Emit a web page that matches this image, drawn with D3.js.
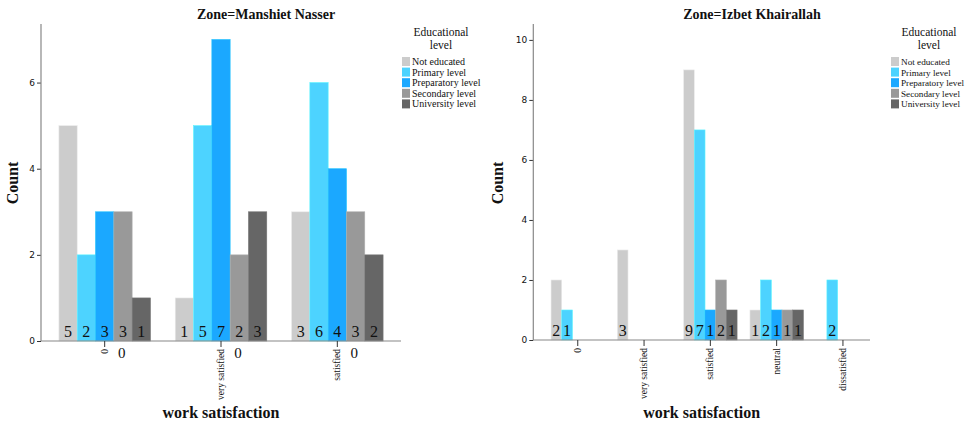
<!DOCTYPE html>
<html>
<head>
<meta charset="utf-8">
<script src="https://cdn.jsdelivr.net/npm/d3@7"></script>
<style>
  body { margin: 0; background: #fff; }
  text { font-family: "Liberation Serif", "DejaVu Serif", serif; fill: #111; }
  .tick text { font-family: "DejaVu Sans", sans-serif; }
</style>
</head>
<body>
<svg id="chart" width="968" height="423"></svg>
<script>
// educational levels (legend + bar order)
var levels = ["Not educated", "Primary level", "Preparatory level", "Secondary level", "University level"];
var levelColors = ["#cccccc", "#4dd3ff", "#1ba8ff", "#999999", "#666666"];

// Zone = Manshiet Nasser
var catsLeft = ["0", "very satisfied", "satisfied"];
var extraLeft = ["0", "0", "0"];   // stray "0" labels next to each tick
var countsLeft = [
  [5, 2, 3, 3, 1],
  [1, 5, 7, 2, 3],
  [3, 6, 4, 3, 2]
];
var yTicksLeft = [0, 2, 4, 6];

// Zone = Izbet Khairallah
var catsRight = ["0", "very satisfied", "satisfied", "neutral", "dissatisfied"];
var countsRight = [
  [2, 1, 0, 0, 0],
  [3, 0, 0, 0, 0],
  [9, 7, 1, 2, 1],
  [1, 2, 1, 1, 1],
  [0, 2, 0, 0, 0]
];
var yTicksRight = [0, 2, 4, 6, 8, 10];

var svg = d3.select("#chart");

function drawPanel(p) {
  var g = svg.append("g");
  var y = d3.scaleLinear().domain([0, p.ymax]).range([p.y0, p.ytop]);
  var x0 = d3.scaleBand().domain(p.cats).range(p.bandRange)
             .paddingInner(p.padIn).paddingOuter(p.padOut);
  var x1 = d3.scaleBand().domain(d3.range(levels.length)).range([0, x0.bandwidth()]);

  // bars
  p.cats.forEach(function(c, i) {
    var grp = g.append("g").attr("transform", "translate(" + x0(c) + ",0)");
    p.counts[i].forEach(function(v, j) {
      if (v <= 0) return;
      grp.append("rect")
         .attr("x", x1(j)).attr("width", x1.bandwidth())
         .attr("y", y(v)).attr("height", y(0) - y(v))
         .attr("fill", levelColors[j])
         .attr("stroke", d3.color(levelColors[j]).brighter(0.4)).attr("stroke-width", 0.6);
      grp.append("text")
         .attr("x", x1(j) + x1.bandwidth() / 2).attr("y", y(0) - 4)
         .attr("text-anchor", "middle")
         .style("font-size", "16px")
         .text(v);
    });
  });

  // y axis
  var yAxis = g.append("g").attr("transform", "translate(" + p.axisX0 + ",0)")
    .call(d3.axisLeft(y).tickValues(p.yTicks).tickSize(4).tickPadding(2));
  yAxis.select(".domain").remove();
  yAxis.selectAll(".tick line").attr("stroke", "#333");
  yAxis.selectAll(".tick text").style("font-size", "9px").attr("fill", "#222");
  g.append("line").attr("x1", p.axisX0).attr("x2", p.axisX0)
   .attr("y1", p.ytop).attr("y2", y(0)).attr("stroke", "#888").attr("stroke-width", 1.2);

  // x axis
  g.append("line").attr("x1", p.axisX0).attr("x2", p.axisX1)
   .attr("y1", y(0)).attr("y2", y(0)).attr("stroke", "#888").attr("stroke-width", 1.2);
  p.cats.forEach(function(c, i) {
    var cx = x0(c) + x0.bandwidth() / 2;
    g.append("line").attr("x1", cx).attr("x2", cx)
     .attr("y1", y(0)).attr("y2", y(0) + 6).attr("stroke", "#333");
    g.append("text")
     .attr("transform", "translate(" + (cx + 3) + "," + (y(0) + 8) + ") rotate(-90)")
     .attr("text-anchor", "end")
     .style("font-size", "9.5px")
     .text(c);
    if (p.extra) {
      g.append("text")
       .attr("x", cx + 17).attr("y", y(0) + 17)
       .attr("text-anchor", "middle")
       .style("font-size", "15px")
       .text(p.extra[i]);
    }
  });

  // titles
  g.append("text").attr("x", p.titleX).attr("y", 19).attr("text-anchor", "middle")
   .style("font-size", "14px").style("font-weight", "bold").text(p.title);
  g.append("text").attr("x", (p.axisX0 + p.axisX1) / 2).attr("y", 418).attr("text-anchor", "middle")
   .style("font-size", "16px").style("font-weight", "bold").text("work satisfaction");
  g.append("text")
   .attr("transform", "translate(" + p.countX + ",183) rotate(-90)")
   .attr("text-anchor", "middle")
   .style("font-size", "16px").style("font-weight", "bold").text("Count");

  // legend
  var lg = g.append("g");
  lg.append("text").attr("x", p.legTitleX).attr("y", 36).attr("text-anchor", "middle")
    .style("font-size", "11.5px").text("Educational");
  lg.append("text").attr("x", p.legTitleX).attr("y", 49).attr("text-anchor", "middle")
    .style("font-size", "11.5px").text("level");
  levels.forEach(function(l, j) {
    var ly = 57 + j * 10.6;
    lg.append("rect").attr("x", p.legX - 10).attr("y", ly).attr("width", 8).attr("height", 9)
      .attr("fill", levelColors[j]);
    lg.append("text").attr("x", p.legX).attr("y", ly + 8)
      .style("font-size", p.legFont).text(l);
  });
}

drawPanel({
  cats: catsLeft, counts: countsLeft, extra: extraLeft, yTicks: yTicksLeft,
  ymax: 7.36, y0: 341, ytop: 24,
  bandRange: [41, 401], padIn: 0.213, padOut: 0.154,
  axisX0: 41, axisX1: 401,
  title: "Zone=Manshiet Nasser", titleX: 266, countX: 18,
  legX: 412, legTitleX: 441, legFont: "10px"
});

drawPanel({
  cats: catsRight, counts: countsRight, extra: null, yTicks: yTicksRight,
  ymax: 10.53, y0: 340, ytop: 24,
  bandRange: [544.6, 876.1], padIn: 0.194, padOut: 0.097,
  axisX0: 533.3, axisX1: 870,
  title: "Zone=Izbet Khairallah", titleX: 752, countX: 503,
  legX: 901, legTitleX: 929, legFont: "9.2px"
});
</script>
</body>
</html>
